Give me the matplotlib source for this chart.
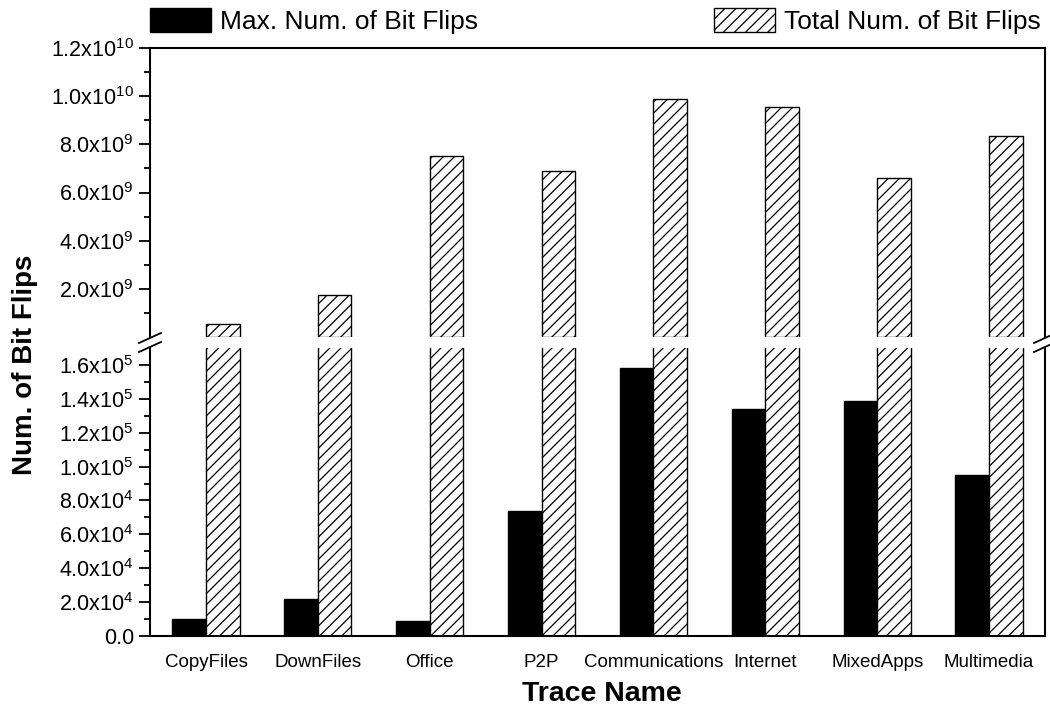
import matplotlib.pyplot as plt
import matplotlib.patches as mpatches
import numpy as np

plt.rcParams['font.family'] = ['Liberation Sans', 'DejaVu Sans']
plt.rcParams['mathtext.default'] = 'regular'
plt.rcParams['hatch.linewidth'] = 0.9

traces = ['CopyFiles', 'DownFiles', 'Office', 'P2P', 'Communications',
          'Internet', 'MixedApps', 'Multimedia']
max_flips = [1.0e4, 2.2e4, 0.9e4, 7.4e4, 1.58e5, 1.34e5, 1.39e5, 9.5e4]
total_flips = [0.55e9, 1.75e9, 7.5e9, 6.9e9, 9.88e9, 9.54e9, 6.6e9, 8.33e9]


def sci_label(v, pos=None):
    if v == 0:
        return '0.0'
    e = int(np.floor(np.log10(v)))
    m = v / 10 ** e
    return '%.1fx10$^{%d}$' % (m, e)


fig = plt.figure(figsize=(10.5, 7.11), dpi=100)
left, width = 150 / 1050, 895 / 1050
ax_top = fig.add_axes([left, 1 - 337 / 711, width, 289 / 711])
ax_bot = fig.add_axes([left, 1 - 636 / 711, width, 288 / 711])

x = np.arange(len(traces))
w = 0.3
# upper part only shows the totals
ax_top.bar(x + w / 2, total_flips, w, color='white', edgecolor='black',
           hatch='///', linewidth=1)
ax_bot.bar(x - w / 2, max_flips, w, color='black', edgecolor='black', linewidth=1)
ax_bot.bar(x + w / 2, total_flips, w, color='white', edgecolor='black',
           hatch='///', linewidth=1)

for ax in (ax_top, ax_bot):
    ax.set_xlim(-0.5, 7.5)
    for s in ax.spines.values():
        s.set_linewidth(1.5)
    ax.tick_params(axis='y', which='major', direction='out', length=8, width=1.3,
                   labelsize=15.5)
    ax.tick_params(axis='y', which='minor', direction='out', length=4.5, width=1.3)
    ax.yaxis.set_major_formatter(plt.FuncFormatter(sci_label))

ax_top.set_ylim(0, 1.2e10)
ax_top.set_yticks(np.arange(2e9, 1.21e10, 2e9))
ax_top.set_yticks(np.arange(1e9, 1.2e10, 2e9), minor=True)
ax_top.spines['bottom'].set_visible(False)
ax_top.set_xticks([])

ax_bot.set_ylim(0, 1.7e5)
ax_bot.set_yticks(np.arange(0, 1.61e5, 2e4))
ax_bot.set_yticks(np.arange(1e4, 1.6e5, 2e4), minor=True)
ax_bot.spines['top'].set_visible(False)
ax_bot.set_xticks(x)
ax_bot.set_xticklabels(traces, fontsize=13.5)
ax_bot.tick_params(axis='x', length=0, pad=13)

# break marks on both vertical axes
for xp in (150, 1045):
    for yp in (338, 347):
        fig.add_artist(plt.Line2D([(xp - 11) / 1050, (xp + 11) / 1050],
                                  [1 - (yp + 5) / 711, 1 - (yp - 5) / 711],
                                  color='black', linewidth=1.3))

fig.text(0.024, 1 - 365 / 711, 'Num. of Bit Flips', rotation=90, fontsize=20,
         fontweight='bold', ha='center', va='center')
fig.text(602 / 1050, 1 - 694 / 711, 'Trace Name', fontsize=20.5,
         fontweight='bold', ha='center', va='center')

h1 = mpatches.Patch(facecolor='black', edgecolor='black')
h2 = mpatches.Patch(facecolor='white', edgecolor='black', hatch='///')
leg_kw = dict(frameon=False, fontsize=19, handlelength=2.3, handleheight=1.0,
              handletextpad=0.35, borderpad=0.15, borderaxespad=0)
fig.legend([h1], ['Max. Num. of Bit Flips'], loc='upper left',
           bbox_to_anchor=(146 / 1050, 1 - 4 / 711), **leg_kw)
fig.legend([h2], ['Total Num. of Bit Flips'], loc='upper right',
           bbox_to_anchor=(1045 / 1050, 1 - 4 / 711), **leg_kw)

fig.savefig('out.png', dpi=100)
